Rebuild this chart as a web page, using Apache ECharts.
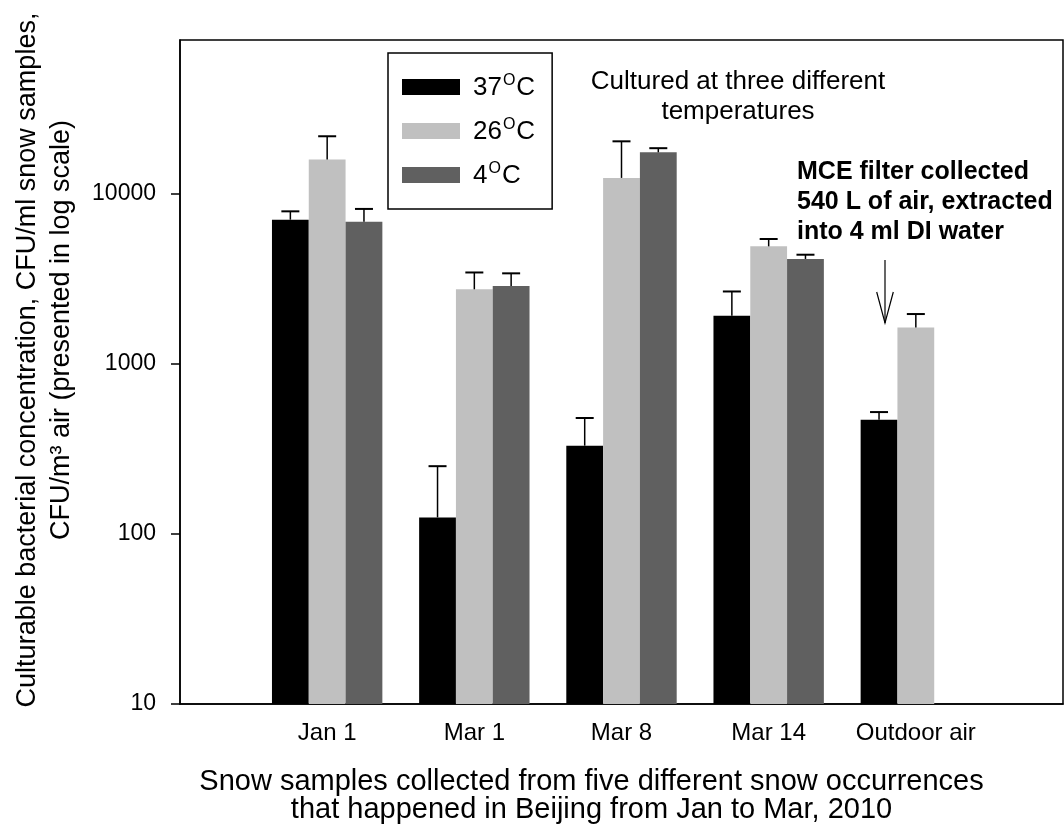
<!DOCTYPE html>
<html><head><meta charset="utf-8">
<script src="https://cdn.jsdelivr.net/npm/echarts@6/dist/echarts.min.js"></script>
<style>html,body{margin:0;padding:0;background:#fff}#c{width:1064px;height:830px}</style>
</head><body><div id="c"></div>
<script>
// ---- data ----
const categories = ['Jan 1', 'Mar 1', 'Mar 8', 'Mar 14', 'Outdoor air'];
const temps = ['37', '26', '4'];
const mean37 = [7030, 125, 330, 1915, 469];
const sd37   = [840, 125, 150, 745, 51];
const mean26 = [15850, 2740, 12370, 4900, 1636];
const sd26   = [5890, 700, 7930, 510, 324];
const mean4  = [6840, 2860, 17500, 4130, null];
const sd4    = [1290, 540, 1000, 245, null];
const yTicks = [10, 100, 1000, 10000];

// ---- styles ----
const FONT = '"Liberation Sans", Arial, sans-serif';
const colors = ['#000000', '#c0c0c0', '#606060'];
const BAR_W = 36.8;
const CAP = 18;

const means = [mean37, mean26, mean4];
const sds = [sd37, sd26, sd4];
const axisCats = [' ', ...categories, '  '];
const names = temps.map(t => t + '°C');

const pad = arr => ['-', ...arr.map(v => v == null ? '-' : v), '-'];

const barSeries = names.map((n, k) => ({
  name: n, type: 'bar', data: pad(means[k]),
  barWidth: BAR_W, barGap: '0%',
  itemStyle: { color: colors[k] }, z: 2, silent: true
}));

const errSeries = names.map((n, k) => ({
  type: 'custom', silent: true, z: 3,
  data: means[k].map((m, i) => m == null ? null : [i + 1, m, m + sds[k][i]]).filter(d => d),
  encode: { x: 0, y: [1, 2] },
  renderItem(params, api) {
    const x = api.value(0);
    const b = api.coord([x, api.value(1)]);
    const t = api.coord([x, api.value(2)]);
    const cx = b[0] + (k - 1) * BAR_W;
    return { type: 'group', children: [
      { type: 'line', shape: { x1: cx, y1: b[1], x2: cx, y2: t[1] }, style: { stroke: '#000', lineWidth: 1.5 } },
      { type: 'line', shape: { x1: cx - CAP / 2, y1: t[1], x2: cx + CAP / 2, y2: t[1] }, style: { stroke: '#000', lineWidth: 2 } }
    ]};
  }
}));

const chart = echarts.init(document.getElementById('c'));
chart.setOption({
  animation: false,
  backgroundColor: '#fff',
  textStyle: { fontFamily: FONT },
  grid: { left: 180, right: 1, top: 40, bottom: 126, show: true, borderColor: '#000', borderWidth: 1.5,
    containLabel: false, outerBoundsMode: 'none' },
  legend: {
    data: names, orient: 'vertical', left: 388, top: 53,
    padding: [20, 17, 20, 14], borderColor: '#000', borderWidth: 1.5,
    itemWidth: 58, itemHeight: 16, itemGap: 16, icon: 'rect', selectedMode: false,
    formatter: n => '{n|' + n.replace('°C', '') + '}{s|O}{n|C}',
    textStyle: { padding: [0, 0, 0, 8], rich: {
      n: { fontSize: 26, color: '#000', fontFamily: FONT, lineHeight: 28, verticalAlign: 'bottom' },
      s: { fontSize: 16, color: '#000', fontFamily: FONT, lineHeight: 16, verticalAlign: 'top', padding: [0, 1, 0, 1] }
    } }
  },
  xAxis: {
    type: 'category', boundaryGap: false, data: axisCats,
    axisLine: { lineStyle: { color: '#000', width: 1.5 } },
    axisTick: { show: false },
    axisLabel: { interval: 0, fontSize: 24, color: '#000', margin: 17, fontFamily: FONT },
    name: 'Snow samples collected from five different snow occurrences\nthat happened in Beijing from Jan to Mar, 2010',
    nameLocation: 'middle', nameGap: 64,
    nameTextStyle: { fontSize: 29, lineHeight: 28, color: '#000', fontFamily: FONT, padding: [0, 60, 0, 0] }
  },
  yAxis: {
    type: 'log', logBase: 10, min: 10, max: 80000,
    axisLine: { show: true, lineStyle: { color: '#000', width: 1.5 } },
    axisTick: { show: true, length: 9, lineStyle: { color: '#000', width: 1.5 }, customValues: yTicks },
    axisLabel: { fontSize: 23, color: '#000', margin: 24, customValues: yTicks, fontFamily: FONT,
      formatter: v => String(Math.round(v)) },
    splitLine: { show: false },
    name: '{a|Culturable bacterial concentration, CFU/ml snow samples,}\n{b|CFU/m³ air (presented in log scale)}',
    nameLocation: 'middle', nameRotate: 90, nameGap: 101,
    nameTextStyle: { fontSize: 27, lineHeight: 34, color: '#000', fontFamily: FONT, padding: [0, 0, 0, 24],
      rich: {
        a: { fontSize: 27, lineHeight: 34, color: '#000', fontFamily: FONT },
        b: { fontSize: 27, lineHeight: 34, color: '#000', fontFamily: FONT, padding: [0, 0, 0, 60] }
      } }
  },
  graphic: [
    { type: 'text', x: 738, y: 67, style: { text: 'Cultured at three different\ntemperatures',
      textAlign: 'center', font: '26px ' + FONT, lineHeight: 30, fill: '#000' } },
    { type: 'text', x: 797, y: 157, style: { text: 'MCE filter collected\n540 L of air, extracted\ninto 4 ml DI water',
      font: 'bold 25px ' + FONT, lineHeight: 30, fill: '#000' } },
    { type: 'polyline', shape: { points: [[885, 260], [885, 323]] }, style: { stroke: '#000', lineWidth: 1.2 } },
    { type: 'polyline', shape: { points: [[876.7, 292], [885, 323], [893.3, 292]] }, style: { stroke: '#000', lineWidth: 1.2, fill: null } }
  ],
  series: [...barSeries, ...errSeries]
});
</script></body></html>
